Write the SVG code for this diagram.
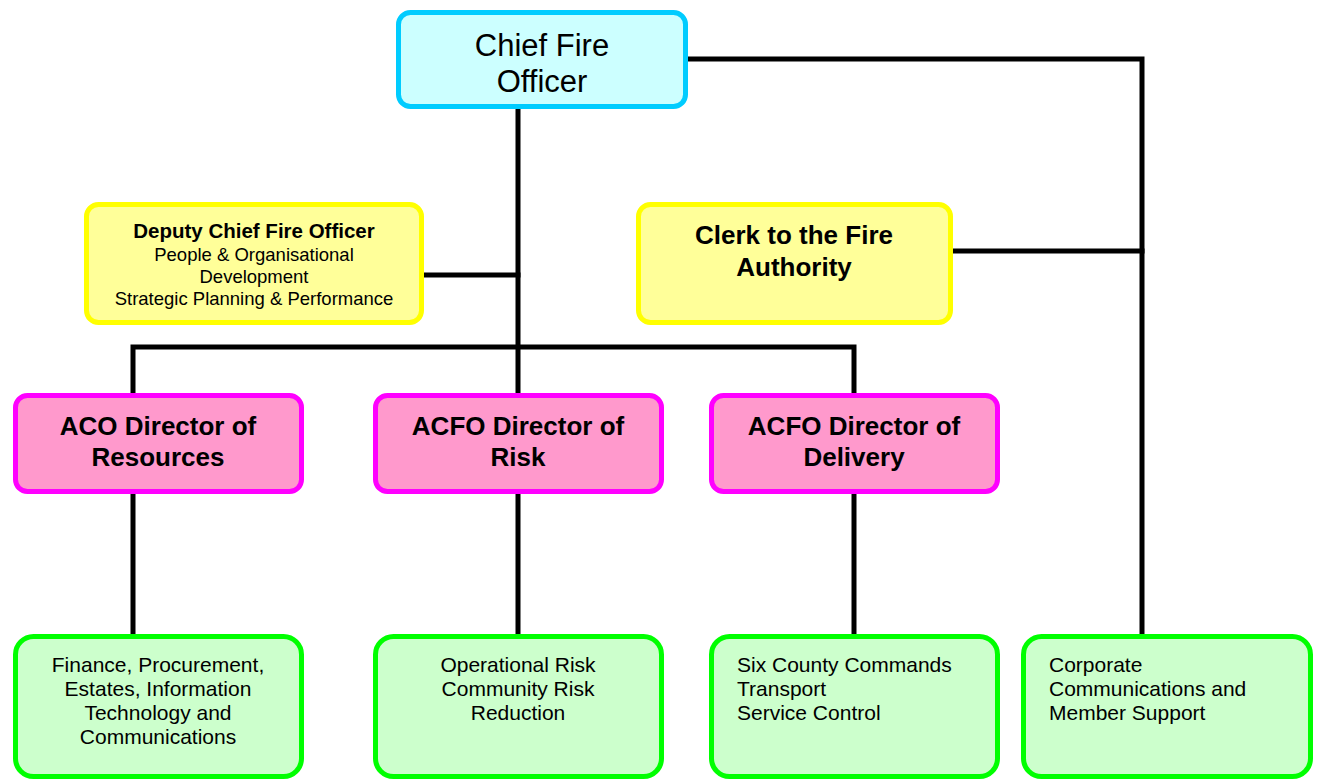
<svg xmlns="http://www.w3.org/2000/svg" width="1318" height="780" viewBox="0 0 1318 780">
<style>
text{font-family:"Liberation Sans",Arial,sans-serif;fill:#000}
.c{stroke:#000;stroke-width:5;fill:none;stroke-linecap:square}
.cyan{fill:#CCFFFF;stroke:#00CCFF;stroke-width:5}
.yel{fill:#FFFF99;stroke:#FFFF00;stroke-width:5}
.pink{fill:#FF99CC;stroke:#FF00FF;stroke-width:5}
.grn{fill:#CCFFCC;stroke:#00FF00;stroke-width:5}
.b26{font-size:26px;font-weight:bold;text-anchor:middle}
.r21{font-size:21px}
.m{text-anchor:middle}
</style>
<rect width="1318" height="780" fill="#fff"/>
<g id="connectors">
<polyline class="c" points="686,59 1142,59 1142,634"/>
<line class="c" x1="518" y1="108" x2="518" y2="393"/>
<line class="c" x1="423" y1="275" x2="518" y2="275"/>
<line class="c" x1="951" y1="251" x2="1142" y2="251"/>
<polyline class="c" points="133,393 133,347 854,347 854,393"/>
<line class="c" x1="133" y1="493" x2="133" y2="634"/>
<line class="c" x1="518" y1="493" x2="518" y2="634"/>
<line class="c" x1="854" y1="493" x2="854" y2="634"/>
</g>
<g id="chief">
<rect class="cyan" x="398.5" y="12.5" width="287" height="94" rx="12"/>
<text class="m" x="542" y="56" font-size="31">Chief Fire</text>
<text class="m" x="542" y="92" font-size="31">Officer</text>
</g>
<g id="deputy">
<rect class="yel" x="86.5" y="204.5" width="335" height="118" rx="12"/>
<text class="m" x="254" y="238" font-size="20.5" font-weight="bold">Deputy Chief Fire Officer</text>
<text class="m" x="254" y="261" font-size="18.5">People &amp; Organisational</text>
<text class="m" x="254" y="283" font-size="18.5">Development</text>
<text class="m" x="254" y="305" font-size="18.5">Strategic Planning &amp; Performance</text>
</g>
<g id="clerk">
<rect class="yel" x="638.5" y="204.5" width="312" height="118" rx="12"/>
<text class="b26" x="794" y="244">Clerk to the Fire</text>
<text class="b26" x="794" y="276">Authority</text>
</g>
<g id="aco-resources">
<rect class="pink" x="15.5" y="395.5" width="286" height="96" rx="12"/>
<text class="b26" x="158" y="435">ACO Director of</text>
<text class="b26" x="158" y="466">Resources</text>
</g>
<g id="acfo-risk">
<rect class="pink" x="375.5" y="395.5" width="286" height="96" rx="12"/>
<text class="b26" x="518" y="435">ACFO Director of</text>
<text class="b26" x="518" y="466">Risk</text>
</g>
<g id="acfo-delivery">
<rect class="pink" x="711.5" y="395.5" width="286" height="96" rx="12"/>
<text class="b26" x="854" y="435">ACFO Director of</text>
<text class="b26" x="854" y="466">Delivery</text>
</g>
<g id="finance">
<rect class="grn" x="15.5" y="636.5" width="286" height="140" rx="18"/>
<text class="r21 m" x="158" y="672">Finance, Procurement,</text>
<text class="r21 m" x="158" y="696">Estates, Information</text>
<text class="r21 m" x="158" y="720">Technology and</text>
<text class="r21 m" x="158" y="744">Communications</text>
</g>
<g id="operational">
<rect class="grn" x="375.5" y="636.5" width="286" height="140" rx="18"/>
<text class="r21 m" x="518" y="672">Operational Risk</text>
<text class="r21 m" x="518" y="696">Community Risk</text>
<text class="r21 m" x="518" y="720">Reduction</text>
</g>
<g id="commands">
<rect class="grn" x="711.5" y="636.5" width="286" height="140" rx="18"/>
<text class="r21" x="737" y="672">Six County Commands</text>
<text class="r21" x="737" y="696">Transport</text>
<text class="r21" x="737" y="720">Service Control</text>
</g>
<g id="corporate">
<rect class="grn" x="1023.5" y="636.5" width="287" height="140" rx="18"/>
<text class="r21" x="1049" y="672">Corporate</text>
<text class="r21" x="1049" y="696">Communications and</text>
<text class="r21" x="1049" y="720">Member Support</text>
</g>
</svg>
